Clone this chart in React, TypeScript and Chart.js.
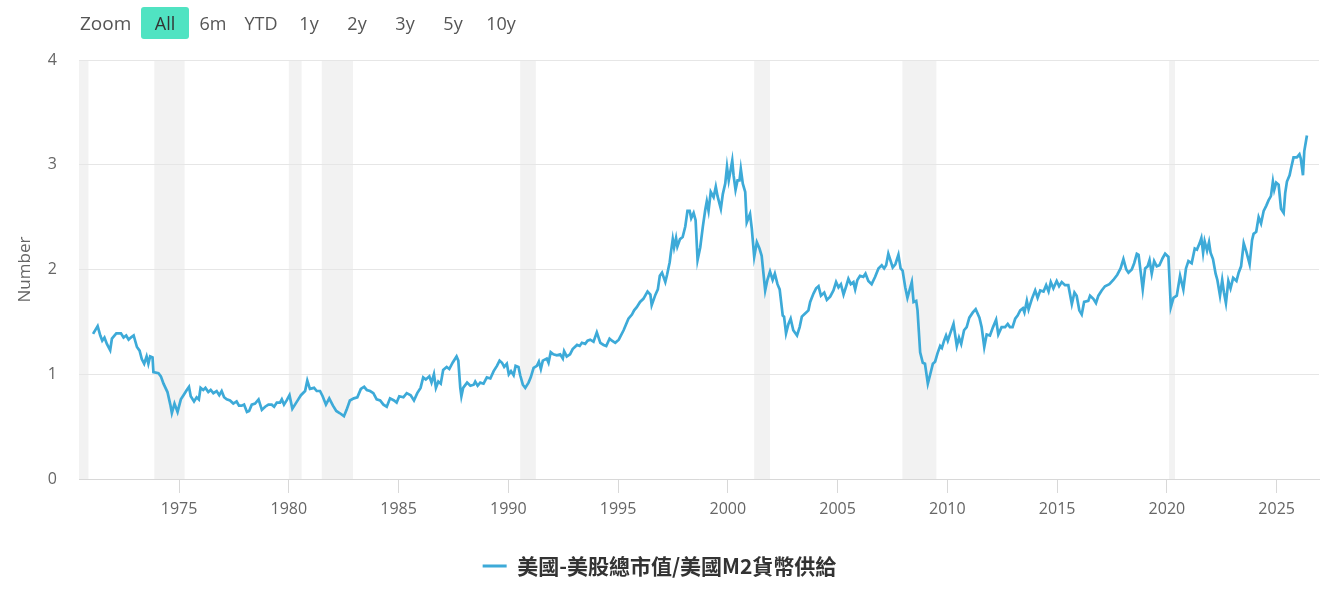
import React, { useEffect, useRef } from "react";
import { Chart, registerables } from "chart.js";

Chart.register(...registerables);

const seriesLabel = "美國-美股總市值/美國M2貨幣供給";
const yAxisTitle = "Number";
const xTickYears = [1975, 1980, 1985, 1990, 1995, 2000, 2005, 2010, 2015, 2020, 2025];
const zoomLabel = "Zoom";
const zoomButtons = ["All", "6m", "YTD", "1y", "2y", "3y", "5y", "10y"];

// NBER recessions (decimal years)
const recessionStart = [1969.92, 1973.87, 1980.0, 1981.5, 1990.54, 2001.2, 2007.95, 2020.1];
const recessionEnd = [1970.87, 1975.25, 1980.58, 1982.92, 1991.25, 2001.92, 2009.5, 2020.37];

// [decimal year, ratio]
const ratio1970s: [number, number][] = [
  [1971.08, 1.385], [1971.29, 1.46], [1971.41, 1.37], [1971.5, 1.32], [1971.6, 1.35], [1971.71, 1.29],
  [1971.86, 1.23], [1971.94, 1.34], [1972.14, 1.39], [1972.35, 1.39], [1972.47, 1.35], [1972.59, 1.37],
  [1972.7, 1.33], [1972.8, 1.35], [1972.93, 1.37], [1973.08, 1.26], [1973.2, 1.225], [1973.3, 1.145],
  [1973.41, 1.1], [1973.52, 1.17], [1973.6, 1.1], [1973.68, 1.17], [1973.79, 1.16], [1973.83, 1.02],
  [1974.06, 1.01], [1974.17, 0.98], [1974.29, 0.91], [1974.47, 0.83], [1974.6, 0.71], [1974.67, 0.63],
  [1974.79, 0.72], [1974.93, 0.64], [1975.08, 0.76], [1975.2, 0.8], [1975.35, 0.85], [1975.45, 0.88],
  [1975.53, 0.79], [1975.68, 0.74], [1975.8, 0.78], [1975.9, 0.76], [1975.98, 0.87], [1976.1, 0.85],
  [1976.2, 0.87], [1976.33, 0.83], [1976.44, 0.85], [1976.56, 0.82], [1976.71, 0.84], [1976.83, 0.8],
  [1976.94, 0.84], [1977.05, 0.78], [1977.17, 0.76], [1977.32, 0.75], [1977.47, 0.72], [1977.62, 0.74],
  [1977.73, 0.7], [1977.85, 0.7], [1977.96, 0.71], [1978.09, 0.64], [1978.19, 0.65], [1978.31, 0.71],
  [1978.46, 0.72], [1978.62, 0.76], [1978.77, 0.66], [1978.92, 0.69], [1979.07, 0.71], [1979.22, 0.71],
  [1979.33, 0.69], [1979.45, 0.73], [1979.6, 0.73], [1979.68, 0.76], [1979.78, 0.71], [1979.9, 0.75],
];

const ratio1980s: [number, number][] = [
  [1980.03, 0.8], [1980.16, 0.67], [1980.28, 0.71], [1980.43, 0.76], [1980.55, 0.8], [1980.74, 0.84],
  [1980.84, 0.94], [1980.96, 0.86], [1981.15, 0.87], [1981.27, 0.84], [1981.42, 0.84], [1981.54, 0.79],
  [1981.69, 0.71], [1981.84, 0.77], [1982.01, 0.7], [1982.16, 0.65], [1982.31, 0.63], [1982.51, 0.6],
  [1982.63, 0.66], [1982.78, 0.75], [1982.96, 0.77], [1983.12, 0.78], [1983.28, 0.86], [1983.43, 0.88],
  [1983.55, 0.85], [1983.7, 0.84], [1983.85, 0.82], [1984.0, 0.76], [1984.16, 0.75], [1984.31, 0.71],
  [1984.46, 0.69], [1984.61, 0.77], [1984.79, 0.75], [1984.91, 0.73], [1985.03, 0.79], [1985.22, 0.78],
  [1985.37, 0.82], [1985.55, 0.8], [1985.7, 0.75], [1985.85, 0.82], [1986.0, 0.87], [1986.12, 0.97],
  [1986.24, 0.95], [1986.4, 0.98], [1986.5, 0.92], [1986.61, 1.0], [1986.7, 0.87], [1986.81, 0.93],
  [1986.92, 0.91], [1987.03, 1.04], [1987.19, 1.07], [1987.31, 1.05], [1987.46, 1.11], [1987.64, 1.17],
  [1987.72, 1.13], [1987.81, 0.87], [1987.86, 0.79], [1987.94, 0.87], [1988.12, 0.92], [1988.27, 0.89],
  [1988.42, 0.9], [1988.49, 0.93], [1988.6, 0.89], [1988.72, 0.92], [1988.87, 0.91], [1989.02, 0.97],
  [1989.18, 0.96], [1989.33, 1.03], [1989.48, 1.08], [1989.6, 1.13], [1989.71, 1.11], [1989.81, 1.07],
  [1989.93, 1.1],
];

const ratio1990s: [number, number][] = [
  [1990.02, 1.0], [1990.12, 1.03], [1990.24, 0.99], [1990.33, 1.08], [1990.46, 1.07], [1990.54, 0.99],
  [1990.66, 0.9], [1990.77, 0.87], [1990.92, 0.92], [1991.02, 0.97], [1991.15, 1.06], [1991.3, 1.08],
  [1991.39, 1.12], [1991.48, 1.05], [1991.57, 1.13], [1991.75, 1.15], [1991.83, 1.11], [1991.93, 1.21],
  [1992.05, 1.19], [1992.21, 1.18], [1992.36, 1.19], [1992.48, 1.15], [1992.54, 1.22], [1992.66, 1.17],
  [1992.81, 1.19], [1992.93, 1.24], [1993.13, 1.28], [1993.25, 1.27], [1993.35, 1.3], [1993.5, 1.29],
  [1993.61, 1.32], [1993.73, 1.33], [1993.88, 1.31], [1994.03, 1.4], [1994.19, 1.3], [1994.34, 1.28],
  [1994.46, 1.27], [1994.61, 1.34], [1994.72, 1.32], [1994.87, 1.3], [1995.03, 1.33], [1995.25, 1.42],
  [1995.47, 1.53], [1995.63, 1.57], [1995.73, 1.61], [1995.85, 1.64], [1996.0, 1.69], [1996.15, 1.72],
  [1996.34, 1.79], [1996.47, 1.76], [1996.53, 1.66], [1996.7, 1.76], [1996.81, 1.81], [1996.9, 1.94],
  [1997.0, 1.97], [1997.15, 1.88], [1997.23, 1.95], [1997.35, 2.07], [1997.41, 2.17], [1997.49, 2.29],
  [1997.55, 2.21], [1997.64, 2.3], [1997.7, 2.22], [1997.82, 2.29], [1997.94, 2.31], [1998.06, 2.41],
  [1998.16, 2.56], [1998.26, 2.56], [1998.33, 2.49], [1998.44, 2.54], [1998.53, 2.47], [1998.62, 2.09],
  [1998.74, 2.21], [1998.86, 2.41], [1998.97, 2.57], [1999.04, 2.65], [1999.12, 2.56], [1999.22, 2.74],
  [1999.35, 2.69], [1999.45, 2.79], [1999.53, 2.7], [1999.68, 2.58], [1999.77, 2.72], [1999.88, 2.82],
  [1999.96, 2.98],
];

const ratio2000s: [number, number][] = [
  [2000.04, 2.85], [2000.11, 2.93], [2000.2, 3.04], [2000.26, 2.9], [2000.35, 2.76], [2000.44, 2.85],
  [2000.53, 2.85], [2000.59, 2.96], [2000.68, 2.82], [2000.79, 2.74], [2000.86, 2.45], [2001.01, 2.53],
  [2001.09, 2.39], [2001.2, 2.12], [2001.32, 2.26], [2001.44, 2.2], [2001.54, 2.13], [2001.7, 1.8],
  [2001.8, 1.9], [2001.92, 1.98], [2002.04, 1.9], [2002.14, 1.96], [2002.26, 1.86], [2002.36, 1.81],
  [2002.5, 1.56], [2002.56, 1.55], [2002.65, 1.39], [2002.76, 1.48], [2002.86, 1.53], [2002.98, 1.42],
  [2003.15, 1.37], [2003.27, 1.45], [2003.37, 1.55], [2003.52, 1.58], [2003.67, 1.61], [2003.75, 1.69],
  [2003.9, 1.77], [2004.02, 1.82], [2004.13, 1.84], [2004.24, 1.75], [2004.39, 1.78], [2004.51, 1.71],
  [2004.66, 1.74], [2004.81, 1.8], [2004.93, 1.88], [2005.04, 1.83], [2005.15, 1.86], [2005.27, 1.76],
  [2005.39, 1.84], [2005.49, 1.91], [2005.6, 1.86], [2005.72, 1.88], [2005.8, 1.81], [2005.9, 1.9],
  [2006.02, 1.94], [2006.17, 1.93], [2006.27, 1.96], [2006.4, 1.89], [2006.55, 1.86], [2006.71, 1.93],
  [2006.86, 2.01], [2007.01, 2.04], [2007.12, 2.01], [2007.21, 2.04], [2007.31, 2.15], [2007.51, 2.02],
  [2007.63, 2.05], [2007.77, 2.14], [2007.87, 2.01], [2007.96, 1.99], [2008.08, 1.83], [2008.18, 1.73],
  [2008.38, 1.88], [2008.46, 1.69], [2008.58, 1.7], [2008.64, 1.61], [2008.76, 1.21], [2008.88, 1.11],
  [2008.98, 1.1], [2009.11, 0.91], [2009.22, 1.0], [2009.34, 1.1], [2009.44, 1.12], [2009.55, 1.2],
  [2009.67, 1.27], [2009.75, 1.25], [2009.85, 1.32], [2009.94, 1.37],
];

const ratio2010s: [number, number][] = [
  [2010.02, 1.32], [2010.13, 1.39], [2010.28, 1.48], [2010.43, 1.27], [2010.53, 1.35], [2010.63, 1.29],
  [2010.76, 1.42], [2010.88, 1.45], [2011.0, 1.54], [2011.16, 1.59], [2011.29, 1.62], [2011.46, 1.54],
  [2011.56, 1.45], [2011.68, 1.26], [2011.79, 1.38], [2011.94, 1.37], [2012.08, 1.45], [2012.22, 1.52],
  [2012.32, 1.38], [2012.47, 1.45], [2012.63, 1.45], [2012.75, 1.48], [2012.85, 1.45], [2012.97, 1.45],
  [2013.09, 1.53], [2013.2, 1.56], [2013.32, 1.61], [2013.44, 1.63], [2013.51, 1.59], [2013.62, 1.7],
  [2013.7, 1.62], [2013.85, 1.72], [2014.0, 1.8], [2014.11, 1.73], [2014.23, 1.8], [2014.38, 1.79],
  [2014.5, 1.85], [2014.61, 1.79], [2014.71, 1.88], [2014.83, 1.82], [2014.98, 1.89], [2015.09, 1.84],
  [2015.21, 1.88], [2015.36, 1.85], [2015.51, 1.85], [2015.67, 1.67], [2015.79, 1.78], [2015.89, 1.75],
  [2016.01, 1.61], [2016.12, 1.57], [2016.23, 1.69], [2016.42, 1.7], [2016.5, 1.75], [2016.65, 1.72],
  [2016.77, 1.68], [2016.88, 1.75], [2017.03, 1.8], [2017.18, 1.84], [2017.38, 1.86], [2017.56, 1.9],
  [2017.74, 1.95], [2017.89, 2.01], [2018.02, 2.1], [2018.15, 2.0], [2018.25, 1.97], [2018.4, 2.0],
  [2018.51, 2.06], [2018.63, 2.15], [2018.71, 2.14], [2018.81, 1.97], [2018.9, 1.81], [2019.01, 2.01],
  [2019.12, 2.03], [2019.21, 2.09], [2019.31, 1.96], [2019.42, 2.08], [2019.54, 2.03], [2019.66, 2.04],
  [2019.81, 2.11], [2019.92, 2.15],
];

const ratio2020s: [number, number][] = [
  [2020.07, 2.12], [2020.18, 1.64], [2020.3, 1.73], [2020.45, 1.75], [2020.6, 1.94], [2020.75, 1.81],
  [2020.87, 2.01], [2020.98, 2.08], [2021.13, 2.06], [2021.27, 2.2], [2021.37, 2.19], [2021.49, 2.25],
  [2021.57, 2.3], [2021.65, 2.16], [2021.72, 2.27], [2021.83, 2.18], [2021.92, 2.26], [2021.99, 2.16],
  [2022.1, 2.1], [2022.22, 1.96], [2022.3, 1.9], [2022.42, 1.75], [2022.52, 1.9], [2022.6, 1.78],
  [2022.69, 1.68], [2022.8, 1.89], [2022.9, 1.82], [2023.02, 1.92], [2023.17, 1.89], [2023.27, 1.97],
  [2023.38, 2.03], [2023.5, 2.25], [2023.62, 2.17], [2023.77, 2.05], [2023.88, 2.28], [2023.95, 2.34],
  [2024.07, 2.36], [2024.18, 2.5], [2024.29, 2.44], [2024.41, 2.56], [2024.53, 2.61], [2024.63, 2.66],
  [2024.74, 2.7], [2024.83, 2.84], [2024.89, 2.76], [2024.98, 2.83], [2025.09, 2.81], [2025.2, 2.58],
  [2025.32, 2.54], [2025.39, 2.73], [2025.47, 2.84], [2025.59, 2.9], [2025.65, 2.96], [2025.77, 3.07],
  [2025.92, 3.07], [2026.04, 3.1], [2026.1, 3.06], [2026.2, 2.9], [2026.26, 3.13], [2026.38, 3.28],
];

const LINE_COLOR = "#3daad8";
const TEXT_COLOR = "#666666";
const LATIN_FONT = "'Open Sans', 'DejaVu Sans', sans-serif";
const CJK_FONT = "'Noto Sans CJK TC', 'Noto Sans', sans-serif";

const recessionBands = {
  id: "recessionBands",
  beforeDraw(chart: any) {
    const { ctx, chartArea, scales } = chart;
    const x = scales.x;
    ctx.save();
    ctx.fillStyle = "#f2f2f2";
    recessionStart.forEach((s, i) => {
      const x1 = Math.max(x.getPixelForValue(s), chartArea.left);
      const x2 = Math.min(x.getPixelForValue(recessionEnd[i]), chartArea.right);
      if (x2 > x1) ctx.fillRect(x1, chartArea.top, x2 - x1, chartArea.bottom - chartArea.top);
    });
    ctx.restore();
  },
};

export default function App() {
  const canvasRef = useRef<HTMLCanvasElement | null>(null);

  useEffect(() => {
    if (!canvasRef.current) return;
    const points = [...ratio1970s, ...ratio1980s, ...ratio1990s, ...ratio2000s, ...ratio2010s, ...ratio2020s].map(
      ([x, y]) => ({ x, y })
    );
    const chart = new Chart(canvasRef.current, {
      type: "line",
      data: {
        datasets: [
          {
            label: seriesLabel,
            data: points,
            borderColor: LINE_COLOR,
            backgroundColor: LINE_COLOR,
            borderWidth: 2.7,
            pointRadius: 0,
            tension: 0,
            fill: false,
          },
        ],
      },
      options: {
        animation: false,
        responsive: true,
        maintainAspectRatio: false,
        layout: { padding: { top: 60, right: 20, left: 0, bottom: 5.5 } },
        plugins: {
          tooltip: { enabled: false },
          legend: {
            position: "bottom",
            labels: {
              boxWidth: 24,
              boxHeight: 3,
              padding: 10,
              color: "#333333",
              font: { family: CJK_FONT, size: 21, weight: "bold" },
              generateLabels: (c: any) => {
                const items = Chart.defaults.plugins.legend.labels.generateLabels(c);
                return items.map((it: any) => ({ ...it, lineWidth: 0, fillStyle: LINE_COLOR, strokeStyle: LINE_COLOR }));
              },
            },
          },
        },
        scales: {
          x: {
            type: "linear",
            min: 1970.44,
            max: 2026.93,
            afterBuildTicks: (scale: any) => {
              scale.ticks = xTickYears.map((v) => ({ value: v }));
            },
            afterFit: (scale: any) => {
              scale.height = 66.5;
            },
            grid: { drawOnChartArea: false, drawTicks: true, tickLength: 14, color: "#d8d8d8" },
            border: { color: "#d8d8d8", width: 1 },
            ticks: {
              autoSkip: false,
              maxRotation: 0,
              padding: 7,
              color: TEXT_COLOR,
              font: { family: LATIN_FONT, size: 16 },
              callback: (v: any) => String(v),
            },
          },
          y: {
            min: 0,
            max: 4,
            afterFit: (scale: any) => {
              scale.width = 79;
            },
            grid: { color: "#e6e6e6", drawTicks: false },
            border: { display: false },
            ticks: {
              stepSize: 1,
              padding: 22,
              color: TEXT_COLOR,
              font: { family: LATIN_FONT, size: 16 },
            },
            title: {
              display: true,
              text: yAxisTitle,
              color: TEXT_COLOR,
              font: { family: LATIN_FONT, size: 17 },
              padding: { top: 15, bottom: 0 },
            },
          },
        },
      },
      plugins: [recessionBands],
    });
    return () => chart.destroy();
  }, []);

  return (
    <div
      style={{
        position: "fixed",
        left: 0,
        top: 0,
        width: 1339,
        height: 592,
        background: "#ffffff",
        fontFamily: LATIN_FONT,
      }}
    >
      <canvas ref={canvasRef} style={{ position: "absolute", left: 0, top: 0 }} />
      <div
        style={{
          position: "absolute",
          left: 80,
          top: 7,
          height: 32,
          lineHeight: "32px",
          fontSize: 19,
          color: "#555555",
        }}
      >
        {zoomLabel}
      </div>
      {zoomButtons.map((b, i) => (
        <div
          key={b}
          style={{
            position: "absolute",
            left: 141 + i * 48,
            top: 7,
            width: 48,
            height: 32,
            lineHeight: "32px",
            textAlign: "center",
            fontSize: 18,
            borderRadius: 3,
            background: i === 0 ? "#50e3c2" : "transparent",
            color: i === 0 ? "#333333" : "#555555",
          }}
        >
          {b}
        </div>
      ))}
    </div>
  );
}
